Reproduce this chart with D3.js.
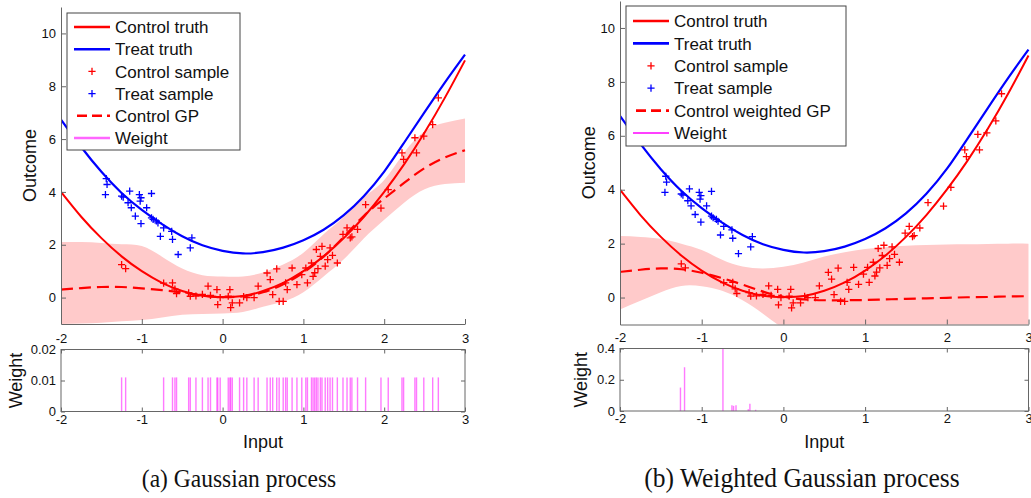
<!DOCTYPE html>
<html><head><meta charset="utf-8">
<script src="https://cdn.jsdelivr.net/npm/d3@7"></script>
<style>
body{margin:0;background:#fff}
svg{display:block}
text{font-family:"Liberation Sans",Arial,Helvetica,sans-serif;fill:#111}
</style>
</head><body>
<svg id="c" width="1031" height="498"></svg>
<script>
// ---------- data ----------
const gridX = [-2,-1.75,-1.5,-1.25,-1,-0.75,-0.5,-0.25,0,0.25,0.5,0.75,1,1.25,1.5,1.75,2,2.25,2.5,2.75,3];
const controlTruth = [4.0,3.06,2.25,1.56,1.0,0.56,0.25,0.07,0.02,0.06,0.25,0.56,1.0,1.56,2.25,3.06,4.0,5.06,6.25,7.56,8.98];
const treatTruth   = [6.74,5.7,4.76,3.96,3.32,2.78,2.32,1.98,1.77,1.67,1.72,1.89,2.17,2.57,3.12,3.85,4.77,5.88,7.02,8.14,9.2];

const gpMean  = [0.3,0.36,0.4,0.4,0.35,0.28,0.2,0.08,0.02,0.05,0.2,0.5,0.95,1.55,2.3,3.1,3.75,4.35,4.9,5.3,5.58];
const gpUpper = [2.1,2.1,2.07,2.02,1.95,1.55,1.1,0.85,0.8,0.8,0.95,1.25,1.7,2.4,3.05,3.8,4.45,5.5,6.3,6.62,6.78];
const gpLower = [-1.0,-0.98,-0.95,-0.9,-0.85,-0.75,-0.65,-0.62,-0.6,-0.55,-0.35,-0.15,0.2,0.8,1.45,2.25,2.95,3.6,4.1,4.3,4.35];

const wgpMean  = [0.95,1.03,1.08,1.05,0.92,0.72,0.48,0.22,0.03,-0.07,-0.1,-0.1,-0.09,-0.07,-0.05,-0.03,-0.01,0.01,0.02,0.04,0.05];
const wgpUpper = [2.28,2.25,2.18,2.0,1.76,1.4,1.15,1.08,1.14,1.3,1.52,1.68,1.8,1.87,1.92,1.95,1.97,1.98,1.99,2.0,2.0];
const wgpLower = [-0.44,-0.12,0.2,0.43,0.42,0.25,-0.1,-0.6,-1.15,-1.6,-1.9,-2.0,-2.0,-2.05,-2.05,-2.05,-2.05,-2.05,-2.05,-2.05,-2.05];

const controlX = [-1.25,-1.20,-0.73,-0.62,-0.59,-0.57,-0.42,-0.40,-0.33,-0.25,-0.18,-0.15,-0.07,-0.06,-0.03,0.07,0.09,0.10,0.12,0.21,0.26,0.30,0.39,0.44,0.55,0.59,0.62,0.67,0.70,0.75,0.78,0.80,0.86,0.92,0.98,1.03,1.05,1.10,1.12,1.14,1.16,1.18,1.21,1.23,1.27,1.30,1.33,1.36,1.42,1.49,1.54,1.58,1.60,1.67,1.77,1.96,2.05,2.22,2.24,2.38,2.40,2.49,2.60,2.67];
const controlY = [1.25,1.10,0.55,0.56,0.32,0.15,0.18,0.05,0.06,0.12,0.43,0.08,0.30,-0.27,0.0,0.05,0.30,-0.38,-0.20,-0.20,0.04,0.0,0.0,0.43,0.93,0.68,0.11,1.09,-0.14,-0.14,0.56,0.30,1.12,0.49,0.87,1.12,0.56,1.31,0.80,0.94,1.82,1.10,1.56,1.94,1.19,1.44,1.88,1.60,1.31,2.39,2.64,2.26,2.30,2.58,3.52,3.39,4.09,5.48,5.23,6.05,5.48,6.11,6.55,7.56];

const treatX = [-1.44,-1.43,-1.45,-1.25,-1.23,-1.15,-1.17,-1.13,-1.08,-1.03,-1.02,-1.01,-1.01,-0.94,-0.88,-0.88,-0.86,-0.82,-0.80,-0.77,-0.73,-0.63,-0.62,-0.55,-0.40,-0.38];
const treatY = [4.50,4.28,3.90,3.84,3.80,4.03,3.59,3.40,3.08,3.90,3.65,3.78,2.80,3.40,3.94,3.02,2.96,2.90,2.83,2.32,2.64,2.51,2.20,1.63,1.88,2.26];

const gpWeight = 0.011;  // every control sample gets the same weight
const wgpWeightX = [-1.26,-1.21,-0.74,-0.63,-0.61,-0.58,-0.43,-0.41,-0.34];
const wgpWeightY = [0.15,0.28,0.42,0.037,0.033,0.037,0.011,0.047,0.008];

const xTicks = [-2,-1,0,1,2,3];
const outcomeTicks = [0,2,4,6,8,10];
const weightTicksA = [0,0.01,0.02];
const weightTicksB = [0,0.2,0.4];

const legendA = ["Control truth","Treat truth","Control sample","Treat sample","Control GP","Weight"];
const legendB = ["Control truth","Treat truth","Control sample","Treat sample","Control weighted GP","Weight"];
const captions = ["(a) Gaussian process","(b) Weighted Gaussian process"];

// ---------- drawing ----------
const svg = d3.select("#c");
const AX = "#666";
const fmt = d => String(d);

function panel(o){
  const g = svg.append("g");
  const x = d3.scaleLinear().domain([-2,3]).range([o.x0,o.x1]);
  const y = d3.scaleLinear().domain([-1,11]).range([o.yb,o.yt]);
  const clipId = "clip"+o.id;
  g.append("clipPath").attr("id",clipId).append("rect")
    .attr("x",o.x0).attr("y",o.yt).attr("width",o.x1-o.x0+2).attr("height",o.yb-o.yt);
  const plot = g.append("g").attr("clip-path",`url(#${clipId})`);

  const idx = d3.range(gridX.length);
  plot.append("path").datum(idx)
    .attr("d", d3.area().x(i=>x(gridX[i])).y0(i=>y(o.lower[i])).y1(i=>y(o.upper[i])).curve(d3.curveNatural))
    .attr("fill","#ffcaca");
  const line = arr => d3.line().x(i=>x(gridX[i])).y(i=>y(arr[i])).curve(d3.curveNatural);
  plot.append("path").datum(idx).attr("d",line(treatTruth)).attr("fill","none").attr("stroke","#0000ff").attr("stroke-width",2.2);
  plot.append("path").datum(idx).attr("d",line(controlTruth)).attr("fill","none").attr("stroke","#ff0000").attr("stroke-width",2);
  plot.append("path").datum(idx).attr("d",line(o.mean)).attr("fill","none").attr("stroke","#ff0000")
    .attr("stroke-width",2.2).attr("stroke-dasharray","12,6");

  const plus = (sel, xs, ys, col) => {
    sel.selectAll(null).data(xs.map((v,i)=>[v,ys[i]])).join("path")
      .attr("d", d=>{const cx=x(d[0]), cy=y(d[1]), s=3.6; return `M${cx-s},${cy}H${cx+s}M${cx},${cy-s}V${cy+s}`;})
      .attr("stroke",col).attr("stroke-width",1.3).attr("fill","none");
  };
  plus(plot, controlX, controlY, "#ff0000");
  plus(plot, treatX, treatY, "#0000ff");

  // axes (left & bottom only)
  const ay = g.append("g").attr("transform",`translate(${o.x0},0)`)
    .call(d3.axisLeft(y).tickValues(outcomeTicks).tickSizeInner(-5).tickSizeOuter(0).tickPadding(5).tickFormat(fmt));
  ay.select(".domain").attr("stroke",AX);
  ay.selectAll(".tick line").attr("stroke",AX);
  ay.selectAll("text").attr("font-size",13).attr("fill","#111");
  const ax = g.append("g").attr("transform",`translate(0,${o.yb})`)
    .call(d3.axisBottom(x).tickValues(xTicks).tickSizeInner(-5).tickSizeOuter(0).tickFormat(""));
  ax.select(".domain").attr("stroke",AX);
  ax.selectAll(".tick line").attr("stroke",AX);

  g.append("text").attr("transform",`translate(${o.outX},${(o.yt+o.yb)/2}) rotate(-90)`)
    .attr("text-anchor","middle").attr("font-size",18).text("Outcome");

  // legend
  const L = o.leg;
  const lg = g.append("g");
  lg.append("rect").attr("x",L.x).attr("y",L.y).attr("width",L.w).attr("height",L.h)
    .attr("fill","#fff").attr("stroke","#444").attr("stroke-width",1);
  o.legend.forEach((t,i)=>{
    const cy = L.y + L.first + i*L.step;
    const lx0 = L.x+7, lx1 = L.x+43, cx=(lx0+lx1)/2;
    if(i===0||i===1){
      lg.append("line").attr("x1",lx0).attr("x2",lx1).attr("y1",cy).attr("y2",cy)
        .attr("stroke", i===0?"#ff0000":"#0000ff").attr("stroke-width",2.6);
    } else if(i===2||i===3){
      lg.append("path").attr("d",`M${cx-3.6},${cy}H${cx+3.6}M${cx},${cy-3.6}V${cy+3.6}`)
        .attr("stroke", i===2?"#ff0000":"#0000ff").attr("stroke-width",1.3);
    } else if(i===4){
      lg.append("line").attr("x1",lx0+3).attr("x2",lx1).attr("y1",cy).attr("y2",cy)
        .attr("stroke","#ff0000").attr("stroke-width",2.6).attr("stroke-dasharray","10,5");
    } else {
      lg.append("line").attr("x1",lx0).attr("x2",lx1).attr("y1",cy).attr("y2",cy)
        .attr("stroke",o.legW.c).attr("stroke-width",o.legW.w);
    }
    lg.append("text").attr("x",L.x+48).attr("y",cy).attr("dy","0.36em").attr("font-size",17).text(t);
  });

  // weight sub-plot
  const wy = d3.scaleLinear().domain(o.wdom).range([o.wb,o.wt]);
  const wg = g.append("g");
  wg.selectAll(null).data(o.wx.map((v,i)=>[v,o.ww[i]])).join("line")
    .attr("x1",d=>x(d[0])).attr("x2",d=>x(d[0])).attr("y1",wy(0)).attr("y2",d=>wy(Math.min(d[1],o.wdom[1])))
    .attr("stroke","#ff33ff").attr("stroke-opacity",0.65).attr("stroke-width",1.4);
  wg.append("rect").attr("x",o.x0).attr("y",o.wt).attr("width",o.x1-o.x0).attr("height",o.wb-o.wt)
    .attr("fill","none").attr("stroke",AX);
  const style = s => { s.select(".domain").remove(); s.selectAll(".tick line").attr("stroke",AX); s.selectAll("text").attr("font-size",13).attr("fill","#111"); };
  wg.append("g").attr("transform",`translate(0,${o.wt})`)
    .call(d3.axisTop(x).tickValues(xTicks).tickSizeInner(-4).tickSizeOuter(0).tickPadding(7).tickFormat(fmt)).call(style);
  wg.append("g").attr("transform",`translate(0,${o.wb})`)
    .call(d3.axisBottom(x).tickValues(xTicks).tickSizeInner(-4).tickSizeOuter(0).tickPadding(3).tickFormat(fmt)).call(style);
  wg.append("g").attr("transform",`translate(${o.x0},0)`)
    .call(d3.axisLeft(wy).tickValues(o.wticks).tickSizeInner(-4).tickSizeOuter(0).tickPadding(5).tickFormat(fmt)).call(style);
  wg.append("g").attr("transform",`translate(${o.x1},0)`)
    .call(d3.axisRight(wy).tickValues(o.wticks).tickSizeInner(-4).tickSizeOuter(0).tickFormat("")).call(style);
  wg.append("text").attr("transform",`translate(${o.wlabX},${(o.wt+o.wb)/2}) rotate(-90)`)
    .attr("text-anchor","middle").attr("font-size",18).text("Weight");
  wg.append("text").attr("x",(o.x0+o.x1)/2).attr("y",448).attr("text-anchor","middle").attr("font-size",18).text("Input");

  svg.append("text").attr("transform",`translate(${o.capX},487) scale(1,1.06)`).attr("text-anchor","middle")
    .style("font-family",'"Liberation Serif","Times New Roman",serif').attr("font-size",o.capSize).text(o.caption);
}

panel({id:"a", x0:61, x1:465, yt:7, yb:324, mean:gpMean, upper:gpUpper, lower:gpLower,
  outX:36, legend:legendA, leg:{x:67,y:13,w:173,h:137,first:14,step:22.2}, legW:{c:"#ff66ff",w:2.6},
  wdom:[0,0.02], wt:349.5, wb:411.5, wticks:weightTicksA, wx:controlX, ww:controlX.map(()=>gpWeight),
  wlabX:22, capX:239, capSize:23.5, caption:captions[0]});

panel({id:"b", x0:620, x1:1028.5, yt:1, yb:324.5, mean:wgpMean, upper:wgpUpper, lower:wgpLower,
  outX:595, legend:legendB, leg:{x:626,y:6,w:220,h:140,first:15,step:22.4}, legW:{c:"#ff00ff",w:1.5},
  wdom:[0,0.4], wt:348.5, wb:411, wticks:weightTicksB, wx:wgpWeightX, ww:wgpWeightY,
  wlabX:587, capX:802, capSize:25.5, caption:captions[1]});
</script>
</body></html>
